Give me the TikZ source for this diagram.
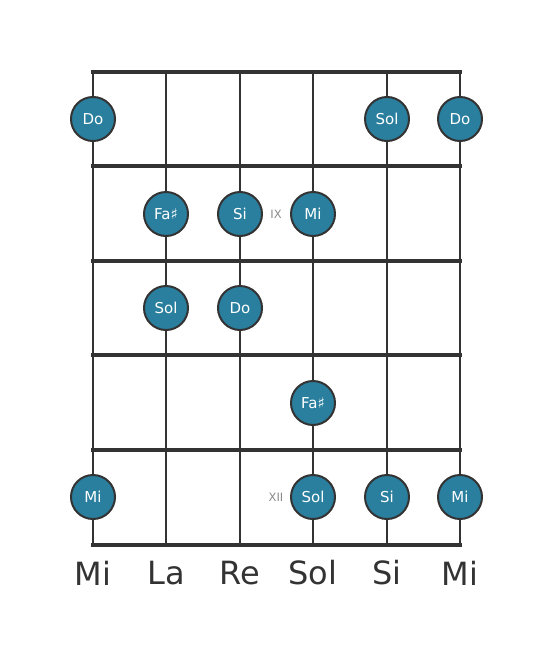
\documentclass[tikz,border=0pt]{standalone}
\usepackage{fontspec}
\setmainfont{DejaVu Sans}
\definecolor{notefill}{HTML}{2A7F9E}
\definecolor{linecol}{HTML}{333333}
\definecolor{romancol}{HTML}{8A8A8A}
\begin{document}
\begin{tikzpicture}[x=1pt,y=-1pt,
  stringline/.style={draw=linecol,line width=2.6pt},
  fretline/.style={draw=linecol,line width=4.8pt},
  note/.style={circle,fill=notefill,draw=linecol,line width=2pt,minimum size=44pt,inner sep=0pt,text=white,font=\fontsize{15}{15}\selectfont},
  roman/.style={text=romancol,font=\fontsize{11.5}{11.5}\selectfont,inner sep=0pt},
  strname/.style={text=linecol,font=\fontsize{32}{32}\selectfont,inner sep=0pt}]
\useasboundingbox (0,0) rectangle (553,656);
% strings
\foreach \x in {93,166,240,313,387,460}
  \draw[stringline] (\x,72) -- (\x,545);
% frets
\foreach \y in {72,166,261,355,450,545}
  \draw[fretline,line cap=rect] (93,\y) -- (460,\y);
% notes
\node[note] (n1) at (93,119) {Do};
\node[note] (n2) at (387,119) {Sol};
\node[note] (n3) at (460,119) {Do};
\node[note] (n4) at (166,214) {Fa♯};
\node[note] (n5) at (240,214) {Si};
\node[roman] (r1) at (276,214) {IX};
\node[note] (n6) at (313,214) {Mi};
\node[note] (n7) at (166,308) {Sol};
\node[note] (n8) at (240,308) {Do};
\node[note] (n9) at (313,403) {Fa♯};
\node[note] (n10) at (93,497) {Mi};
\node[roman] (r2) at (276,497) {XII};
\node[note] (n11) at (313,497) {Sol};
\node[note] (n12) at (387,497) {Si};
\node[note] (n13) at (460,497) {Mi};
% string names
\node[strname] (s1) at (93,573) {Mi};
\node[strname] (s2) at (166,573) {La};
\node[strname] (s3) at (240,573) {Re};
\node[strname] (s4) at (313,573) {Sol};
\node[strname] (s5) at (387,573) {Si};
\node[strname] (s6) at (460,573) {Mi};
\end{tikzpicture}
\end{document}
